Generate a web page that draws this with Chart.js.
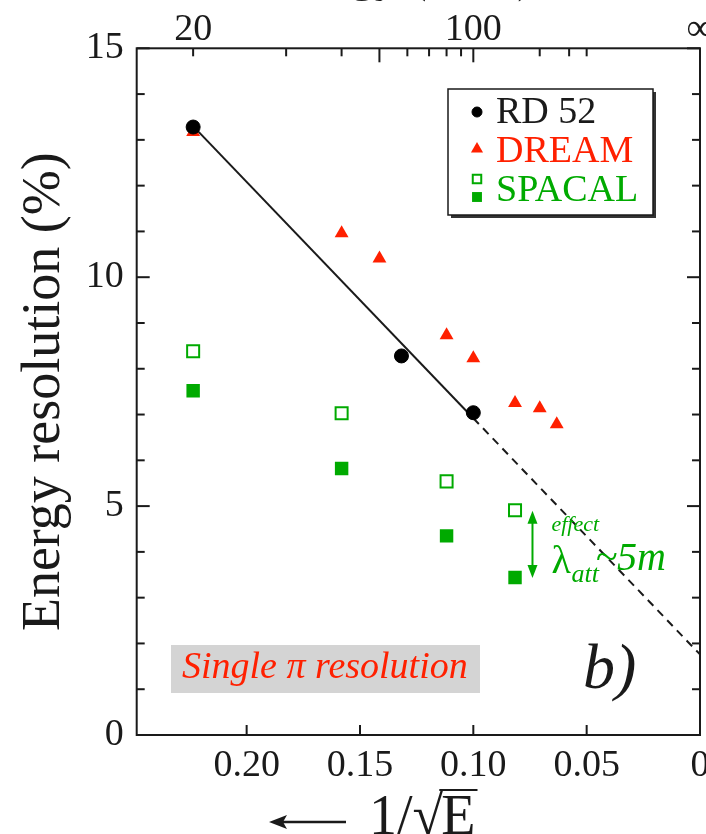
<!DOCTYPE html>
<html>
<head>
<meta charset="utf-8">
<script src="https://cdn.jsdelivr.net/npm/chart.js@4.4.1/dist/chart.umd.min.js"></script>
<style>
  html, body { margin: 0; padding: 0; background: #fff; }
  #wrap { width: 706px; height: 834px; }
</style>
</head>
<body>
<div id="wrap"><canvas id="c" width="706" height="834"></canvas></div>
<script>
// --- data (x = 1/sqrt(E), y = resolution in %) ---
const rd52X = [0.2236, 0.1317, 0.1000];
const rd52Y = [13.28, 8.28, 7.04];

const dreamX = [0.2236, 0.1581, 0.1414, 0.1118, 0.1000, 0.0816, 0.0707, 0.0632];
const dreamY = [13.17, 10.96, 10.41, 8.73, 8.23, 7.25, 7.14, 6.79];

const spacalX = [0.2236, 0.1581, 0.1118, 0.0816];
const spacalOpenY = [8.38, 7.03, 5.54, 4.91];
const spacalFilledY = [7.52, 5.82, 4.35, 3.44];

// straight-line fit through RD52 (solid over the data, dashed extrapolation)
const fitSolidX = [0.2236, 0.1000];
const fitSolidY = [13.30, 6.92];
const fitDashedX = [0.1000, 0.0];
const fitDashedY = [6.92, 1.76];

// attenuation-length effect arrow
const arrowX = 0.0739;
const arrowY = [4.90, 3.43];

// top axis: beam energy in GeV
const topTickEnergies = [20, 30, 40, 50, 60, 70, 80, 90, 100, 200, 300, 400, Infinity];
const topTickLabels = ['20', '', '', '', '', '', '', '', '100', '', '', '', '\u221E'];
const topMajorEnergies = [50, 100];

const SERIF = '"Liberation Serif", "Times New Roman", serif';
const RED = 'rgb(255,32,0)';
const GREEN = 'rgb(0,170,0)';
const INK = '#1a1a1a';

const pts = (xs, ys) => xs.map((x, i) => ({ x: x, y: ys[i] }));

// keep the plot box fixed: no extra room for half-labels at the ends
const noPad = s => { s.paddingLeft = 0; s.paddingRight = 0; s.paddingTop = 0; s.paddingBottom = 0; };

// frame + inward tick marks on all four sides
const framePlugin = {
    id: 'frame',
    afterDatasetsDraw(chart) {
        const { ctx, chartArea: a, scales } = chart;
        const line = (x1, y1, x2, y2) => { ctx.beginPath(); ctx.moveTo(x1, y1); ctx.lineTo(x2, y2); ctx.stroke(); };
        ctx.save();
        ctx.strokeStyle = INK;
        ctx.lineWidth = 2;
        ctx.strokeRect(a.left, a.top, a.right - a.left, a.bottom - a.top);
        scales.y.ticks.forEach(t => {
            const py = scales.y.getPixelForValue(t.value);
            const len = t.value % 5 === 0 ? 13 : 8;
            line(a.left, py, a.left + len, py);
            line(a.right, py, a.right - len, py);
        });
        scales.x.ticks.forEach(t => {
            const px = scales.x.getPixelForValue(t.value);
            line(px, a.bottom, px, a.bottom - 10);
        });
        scales.xTop.ticks.forEach((t, i) => {
            const px = scales.xTop.getPixelForValue(t.value);
            const len = topMajorEnergies.includes(topTickEnergies[i]) ? 14 : 8;
            line(px, a.top, px, a.top + len);
        });
        ctx.restore();
    }
};

// legend box, notes and axis captions
const notesPlugin = {
    id: 'notes',
    afterDraw(chart) {
        const { ctx, scales } = chart;
        const ds = chart.data.datasets;
        ctx.save();

        // legend with drop shadow
        ctx.fillStyle = '#333';
        ctx.fillRect(451, 92, 205, 126);
        ctx.fillStyle = '#fff';
        ctx.fillRect(448, 89, 205, 126);
        ctx.strokeStyle = INK;
        ctx.lineWidth = 1.5;
        ctx.strokeRect(448, 89, 205, 126);

        const mark = (d, x, y, r) => {
            ctx.fillStyle = d.backgroundColor;
            ctx.strokeStyle = d.borderColor;
            ctx.lineWidth = d.borderWidth;
            Chart.helpers.drawPoint(ctx, { pointStyle: d.pointStyle, radius: r, rotation: 0, borderWidth: d.borderWidth }, x, y);
        };
        ctx.font = '38px ' + SERIF;
        ctx.textBaseline = 'alphabetic';
        ctx.textAlign = 'left';
        mark(ds[0], 477, 112, 5);
        ctx.fillStyle = INK; ctx.fillText(ds[0].label, 496, 123);
        mark(ds[3], 477, 149, 7);
        ctx.fillStyle = RED; ctx.fillText(ds[3].label, 496, 162);
        mark(ds[4], 477, 179, 6);
        mark(ds[5], 477, 197, 7);
        ctx.fillStyle = GREEN; ctx.fillText(ds[4].label, 496, 201);

        // "Single pi resolution" on grey band
        ctx.fillStyle = '#d4d4d4';
        ctx.fillRect(171, 645, 309, 48);
        ctx.fillStyle = RED;
        ctx.font = 'italic 38px ' + SERIF;
        ctx.fillText('Single \u03C0 resolution', 182, 678);

        // panel tag
        ctx.fillStyle = INK;
        ctx.font = 'italic 64px ' + SERIF;
        ctx.fillText('b)', 583, 688);

        // lambda_att effect arrow
        const ax = scales.x.getPixelForValue(arrowX);
        const ay1 = scales.y.getPixelForValue(arrowY[0]);
        const ay2 = scales.y.getPixelForValue(arrowY[1]);
        ctx.strokeStyle = GREEN;
        ctx.fillStyle = GREEN;
        ctx.lineWidth = 2;
        ctx.beginPath(); ctx.moveTo(ax, ay1 + 8); ctx.lineTo(ax, ay2 - 8); ctx.stroke();
        ctx.beginPath(); ctx.moveTo(ax, ay1); ctx.lineTo(ax - 5, ay1 + 13); ctx.lineTo(ax + 5, ay1 + 13); ctx.closePath(); ctx.fill();
        ctx.beginPath(); ctx.moveTo(ax, ay2); ctx.lineTo(ax - 5, ay2 - 13); ctx.lineTo(ax + 5, ay2 - 13); ctx.closePath(); ctx.fill();
        ctx.font = 'italic 22px ' + SERIF;
        ctx.fillText('effect', ax + 19, ay1 + 20);
        ctx.font = '40px ' + SERIF;
        ctx.fillText('\u03BB', ax + 19, ay1 + 62);
        ctx.font = 'italic 26px ' + SERIF;
        ctx.fillText('att', ax + 39, ay1 + 71);
        ctx.font = 'italic 40px ' + SERIF;
        ctx.fillText('~5m', ax + 63, ay1 + 59);

        // bottom axis caption: arrow + 1/sqrt(E)
        ctx.strokeStyle = INK;
        ctx.fillStyle = INK;
        ctx.lineWidth = 2.5;
        ctx.beginPath(); ctx.moveTo(346, 822); ctx.lineTo(278, 822); ctx.stroke();
        ctx.beginPath(); ctx.moveTo(269, 822); ctx.lineTo(287, 815); ctx.lineTo(283, 822); ctx.lineTo(287, 829); ctx.closePath(); ctx.fill();
        ctx.font = '56px ' + SERIF;
        const x0 = 369, base = 834;
        ctx.fillText('1/\u221A', x0, base);
        const w1 = ctx.measureText('1/\u221A').width;
        ctx.fillText('E', x0 + w1 - 2, base);
        const wE = ctx.measureText('E').width;
        ctx.lineWidth = 2;
        ctx.beginPath(); ctx.moveTo(x0 + w1 - 4, base - 44); ctx.lineTo(x0 + w1 + wE, base - 44); ctx.stroke();

        // top axis caption, mostly above the picture edge
        ctx.font = '48px ' + SERIF;
        ctx.textAlign = 'center';
        ctx.fillText('Energy (GeV)', 397, -9);

        ctx.restore();
    }
};

const tickFont = { family: SERIF, size: 38 };

new Chart(document.getElementById('c'), {
    type: 'scatter',
    data: {
        datasets: [
            { label: 'RD 52', data: pts(rd52X, rd52Y), pointStyle: 'circle', pointRadius: 7, backgroundColor: '#000', borderColor: '#000', borderWidth: 1 },
            { label: 'fit', data: pts(fitSolidX, fitSolidY), showLine: true, pointRadius: 0, borderColor: INK, borderWidth: 2, backgroundColor: INK },
            { label: 'fit extrapolation', data: pts(fitDashedX, fitDashedY), showLine: true, pointRadius: 0, borderColor: INK, borderWidth: 2, borderDash: [8, 6], backgroundColor: INK },
            { label: 'DREAM', data: pts(dreamX, dreamY), pointStyle: 'triangle', pointRadius: 8, backgroundColor: RED, borderColor: RED, borderWidth: 0 },
            { label: 'SPACAL', data: pts(spacalX, spacalOpenY), pointStyle: 'rect', pointRadius: 8.5, backgroundColor: '#fff', borderColor: GREEN, borderWidth: 2 },
            { label: 'SPACAL', data: pts(spacalX, spacalFilledY), pointStyle: 'rect', pointRadius: 9.5, backgroundColor: GREEN, borderColor: GREEN, borderWidth: 0 }
        ]
    },
    options: {
        responsive: false,
        devicePixelRatio: 1,
        animation: false,
        layout: { padding: { left: 0, right: 6, top: 0, bottom: 0 }, autoPadding: false },
        plugins: { legend: { display: false }, tooltip: { enabled: false } },
        scales: {
            x: {
                type: 'linear', position: 'bottom', reverse: true, min: 0, max: 0.2485,
                afterFit: s => { s.height = 99; noPad(s); },
                grid: { display: false }, border: { display: false },
                ticks: {
                    stepSize: 0.05, includeBounds: false, autoSkip: false, maxRotation: 0, padding: 0,
                    color: INK, font: tickFont,
                    callback: v => (Math.abs(v) < 1e-9 ? '0' : v.toFixed(2))
                }
            },
            xTop: {
                type: 'linear', position: 'top', reverse: true, min: 0, max: 0.2485,
                afterFit: s => { s.height = 48.3; noPad(s); },
                afterBuildTicks: s => { s.ticks = topTickEnergies.map(E => ({ value: 1 / Math.sqrt(E) })); },
                grid: { display: false }, border: { display: false },
                ticks: {
                    autoSkip: false, maxRotation: 0, padding: -13, color: INK, font: tickFont,
                    callback: (v, i) => topTickLabels[i]
                }
            },
            y: {
                min: 0, max: 15,
                afterFit: s => { s.width = 136.7; noPad(s); },
                grid: { display: false }, border: { display: false },
                ticks: {
                    stepSize: 1, autoSkip: false, padding: 5, color: INK, font: tickFont,
                    callback: v => (v % 5 === 0 ? String(v) : '')
                },
                title: {
                    display: true, text: 'Energy resolution (%)', color: INK,
                    font: { family: SERIF, size: 54 }, padding: { top: 12, bottom: 0 }
                }
            }
        }
    },
    plugins: [framePlugin, notesPlugin]
});
</script>
</body>
</html>
